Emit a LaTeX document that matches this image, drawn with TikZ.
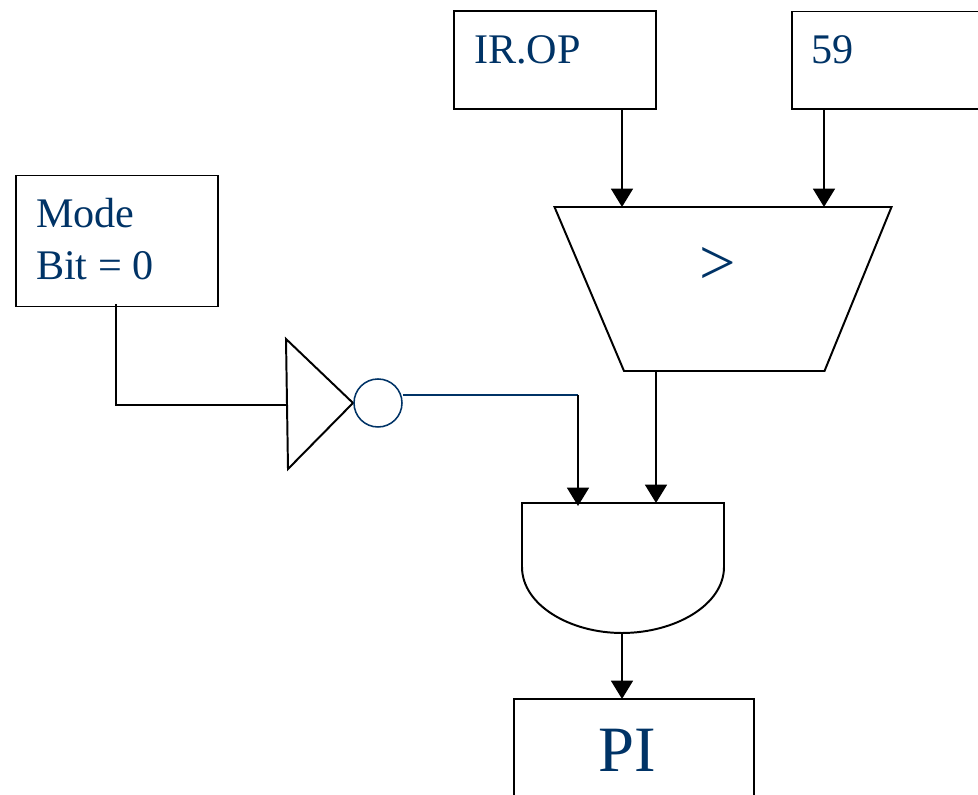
\documentclass[tikz,border=0pt]{standalone}
\usepackage{fontspec}
\setmainfont{Liberation Serif}
\usetikzlibrary{arrows,arrows.meta,positioning}
\definecolor{labelblue}{RGB}{0,51,102}
% picture units: 1 reference pixel = 0.05cm, y upwards from the bottom edge
\begin{document}
\begin{tikzpicture}
	[x=0.05cm,y=0.05cm,
	 block/.style={draw=black,line width=2.8pt,inner sep=0pt,line join=miter},
	 textlabel/.style={text=labelblue,font=\fontsize{60}{70}\selectfont,anchor=west,inner sep=0pt},
	 wire/.style={draw=black,line width=2.8pt},
	 flow/.style={wire,-{Triangle[length=26pt,width=31pt]}}]
\useasboundingbox (0,0) rectangle (978,795);
% boxes
\node[block,minimum width=10.1cm,minimum height=4.9cm] (irop) at (555,735) {};
\node[textlabel] (iroplabel) at (474,745) {IR.OP};
\path[block,draw] (978,686) -- (792,686) -- (792,783.5) -- (978,783.5);
\coordinate (lit) at (824,686);
\node[textlabel] (litlabel) at (811.5,745) {59};
\node[block,minimum width=10.1cm,minimum height=6.55cm] (mode) at (117,554) {};
\node[textlabel] (modelabel) at (36,582) {Mode};
\node[textlabel] (bitlabel) at (36,529.5) {Bit = 0};
% comparator
\draw[block] (554.5,588) coordinate (cmptl) -- (891.5,588) -- (824.5,424) -- (624,424) -- cycle;
\node[text=labelblue,font=\fontsize{92}{100}\selectfont,inner sep=0pt] (gt) at (718,529) {>};
\coordinate (cmpa) at (622,588);
\coordinate (cmpb) at (824,588);
\coordinate (cmpout) at (656,424);
% inverter
\draw[block] (286,456) -- (353,392) -- (288,326) -- cycle;
\coordinate (invin) at (287,390);
\node[circle,draw=labelblue,line width=2.2pt,minimum size=2.4cm,inner sep=0pt] (bubble) at (378,392) {};
% and gate
\draw[block] (522,292) -- (724,292) -- (724,228)
  .. controls (724,190) and (675,162) .. (622,162)
  .. controls (570,162) and (522,190) .. (522,228) -- cycle;
\coordinate (anda) at (578,289);
\coordinate (andb) at (656,292);
\coordinate (andout) at (622,162);
% output box
\path[block,draw] (514,0) -- (514,96) -- (754,96) -- (754,0);
\coordinate (pcin) at (622,96);
\node[text=labelblue,font=\fontsize{92}{100}\selectfont,inner sep=0pt] (pi) at (627,45) {PI};
% connectors
\draw[flow] (622,686) -- (cmpa);
\draw[flow] (lit) -- (cmpb);
\draw[flow] (cmpout) -- (andb);
\draw[flow] (andout) -- (pcin);
\draw[wire] (116,491) |- (invin);
\coordinate (bend) at (578,400);
\draw[draw=labelblue,line width=2.8pt] (bubble.east |- bend) -- (bend);
\draw[flow] (bend) -- (anda);
\end{tikzpicture}
\end{document}
